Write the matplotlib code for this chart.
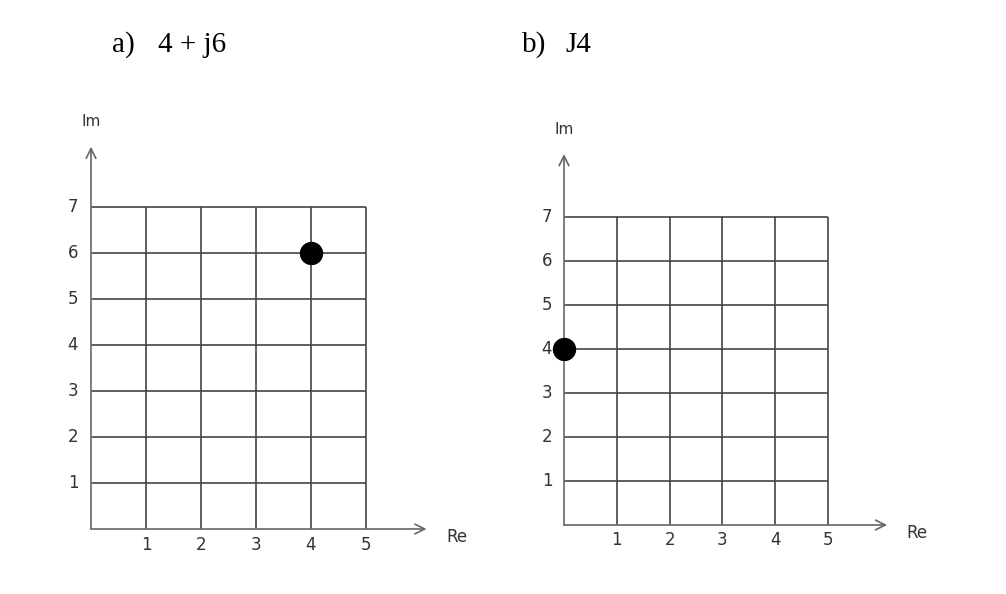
import matplotlib.pyplot as plt

# values
re_ticks = [1, 2, 3, 4, 5]
im_ticks = [1, 2, 3, 4, 5, 6, 7]
point_a = (4, 6)   # 4 + j6
point_b = (0, 4)   # J4

W, H = 1006, 594
fig = plt.figure(figsize=(W / 100, H / 100), dpi=100)


def pixel_axes(x0, y0, x1, y1):
    # x0,y0 = pixel of origin; x1,y1 = pixel of (5, 7)
    return fig.add_axes([x0 / W, (H - y0) / H, (x1 - x0) / W, (y0 - y1) / H])


def argand(ax, point, y_tip, x_tip, xlab_dy, ylab_dx):
    ax.set_xlim(0, 5)
    ax.set_ylim(0, 7)
    ax.axis("off")
    grid = dict(color="#444444", lw=1.2, clip_on=False, solid_capstyle="butt")
    for v in im_ticks:
        ax.plot([0, 5], [v, v], **grid)
    for v in re_ticks:
        ax.plot([v, v], [0, 7], **grid)
    arrow = dict(arrowstyle="->,head_length=0.7,head_width=0.35", color="#666666", lw=1.2,
                 shrinkA=0, shrinkB=0)
    ax.annotate("", xy=(0, y_tip), xytext=(0, 0), arrowprops=arrow, annotation_clip=False)
    ax.annotate("", xy=(x_tip, 0), xytext=(0, 0), arrowprops=arrow, annotation_clip=False)
    ax.annotate("Im", xy=(0, y_tip), xytext=(0, 25), textcoords="offset pixels",
                ha="center", va="center", fontsize=11, color="#333333", annotation_clip=False)
    ax.annotate("Re", xy=(x_tip, 0), xytext=(30, -8), textcoords="offset pixels",
                ha="center", va="center", fontsize=12, color="#333333", annotation_clip=False)
    for v in im_ticks:
        ax.annotate(str(v), xy=(0, v), xytext=(ylab_dx, 0), textcoords="offset pixels",
                    ha="center", va="center", fontsize=12, color="#333333",
                    annotation_clip=False)
    for v in re_ticks:
        ax.annotate(str(v), xy=(v, 0), xytext=(0, xlab_dy), textcoords="offset pixels",
                    ha="center", va="center", fontsize=12, color="#333333",
                    annotation_clip=False)
    ax.scatter([point[0]], [point[1]], s=250, color="black", zorder=5, clip_on=False)


ax1 = pixel_axes(91, 529, 366, 207)
argand(ax1, point_a, 8.31, 6.1, -16, -18)

ax2 = pixel_axes(564, 525, 828, 217)
argand(ax2, point_b, 8.43, 6.12, -15, -17)

serif = dict(family="Liberation Serif", fontsize=21, va="center", color="black")
fig.text(111.7 / W, 1 - 45 / H, "a)", **serif)
fig.text(158 / W, 1 - 45 / H, "4 + j6", **serif)
fig.text(521.7 / W, 1 - 45 / H, "b)", **serif)
fig.text(565 / W, 1 - 45 / H, "J4", **serif)

fig.savefig("out.png", dpi=100, facecolor="white")
